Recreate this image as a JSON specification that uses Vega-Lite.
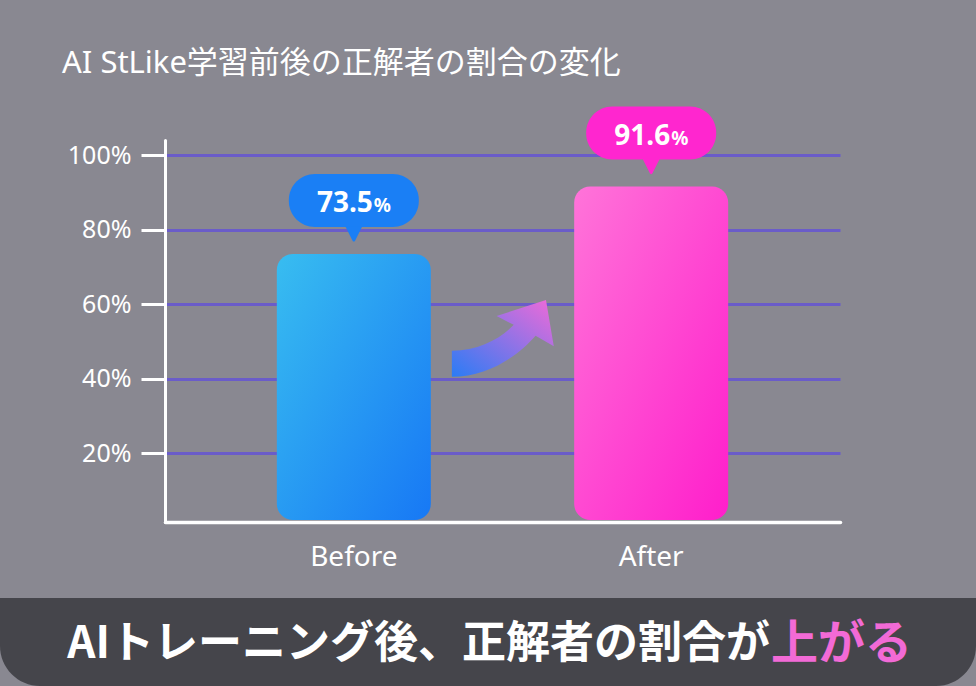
{
  "$schema": "https://vega.github.io/schema/vega-lite/v6.json",
  "width": 675,
  "height": 382,
  "autosize": "none",
  "padding": {"left": 165, "top": 140, "right": 136, "bottom": 164},
  "background": "#898891",
  "title": {
    "text": "AI StLike学習前後の正解者の割合の変化",
    "anchor": "start",
    "frame": "group",
    "dx": -103,
    "offset": 3,
    "baseline": "alphabetic",
    "font": "'Noto Sans', 'Noto Sans CJK JP'",
    "fontSize": 31,
    "fontWeight": "normal",
    "color": "white"
  },
  "data": {"values": [
    {"phase": "Before", "rate": 73.5},
    {"phase": "After", "rate": 91.6}
  ]},
  "encoding": {
    "x": {
      "field": "phase", "type": "nominal", "sort": ["Before", "After"],
      "scale": {"paddingInner": 0, "paddingOuter": 0.135},
      "axis": {"title": null, "labelAngle": 0, "ticks": false, "grid": false,
        "domainColor": "white", "domainWidth": 3.5, "labelFontSize": 28, "labelPadding": 21}
    },
    "y": {
      "field": "rate", "type": "quantitative",
      "scale": {"domain": [1.5, 104.1], "nice": false, "zero": false},
      "axis": {"title": null, "values": [20, 40, 60, 80, 100], "labelExpr": "datum.value + '%'",
        "domainColor": "white", "domainWidth": 3, "tickColor": "white", "tickWidth": 3, "tickSize": 24,
        "labelPadding": 10, "labelFontSize": 25, "grid": true, "gridColor": "#6a5cc9", "gridWidth": 3}
    }
  },
  "layer": [
    {
      "data": {"values": [{}]},
      "mark": {"type": "rect", "color": "#45454b", "cornerRadiusBottomLeft": 40, "cornerRadiusBottomRight": 40},
      "encoding": {"x": {"value": -165}, "x2": {"value": 811}, "y": {"value": 458}, "y2": {"value": 546}}
    },
    {
      "mark": {"type": "bar", "width": 154, "cornerRadius": 16, "y2Offset": -2},
      "encoding": {
        "y2": {"datum": 1.5},
        "fill": {
          "condition": {"test": "datum.phase === 'Before'", "value": {"gradient": "linear", "x1": 0, "y1": 0, "x2": 1, "y2": 1,
            "stops": [{"offset": 0, "color": "#38bdf0"}, {"offset": 1, "color": "#1778f5"}]}},
          "value": {"gradient": "linear", "x1": 0, "y1": 0, "x2": 1, "y2": 1,
            "stops": [{"offset": 0, "color": "#ff74d9"}, {"offset": 1, "color": "#ff1ecb"}]}
        }
      }
    },
    {
      "mark": {"type": "bar", "width": 130, "cornerRadius": 26, "yOffset": -80, "y2Offset": -27},
      "encoding": {
        "y2": {"field": "rate"},
        "fill": {"condition": {"test": "datum.phase === 'Before'", "value": "#1a7ff5"}, "value": "#ff26cf"}
      }
    },
    {
      "mark": {"type": "point", "shape": "M-1,-0.9L1,-0.9L0.15,0.8Q0,1,-0.15,0.8Z", "size": 289, "filled": true, "opacity": 1, "strokeWidth": 0, "yOffset": -20},
      "encoding": {
        "fill": {"condition": {"test": "datum.phase === 'Before'", "value": "#1a7ff5"}, "value": "#ff26cf"}
      }
    },
    {
      "mark": {"type": "text", "align": "right", "baseline": "alphabetic", "xOffset": 19, "yOffset": -42,
        "font": "Noto Sans", "fontSize": 28, "fontWeight": "bold", "color": "white"},
      "encoding": {"text": {"field": "rate", "format": ".1f"}}
    },
    {
      "mark": {"type": "text", "align": "left", "baseline": "alphabetic", "xOffset": 20, "yOffset": -42,
        "font": "Noto Sans", "fontSize": 19, "fontWeight": "bold", "color": "white", "text": "%"},
      "encoding": {}
    },
    {
      "transform": [{"filter": "datum.phase === 'Before'"}],
      "mark": {"type": "point", "filled": true, "opacity": 1, "strokeWidth": 0, "xOffset": 149, "size": 10816,
        "shape": "M-0.98,0.21C-0.46,0.19,-0.08,0,0.21,-0.29L-0.12,-0.46L0.83,-0.77L0.98,0.12L0.63,-0.08C0.31,0.29,-0.27,0.71,-0.98,0.71Z"},
      "encoding": {
        "y": {"datum": 50.4},
        "fill": {"value": {"gradient": "linear", "x1": 0, "y1": 1, "x2": 1, "y2": 0,
          "stops": [{"offset": 0, "color": "#2a7cf5"}, {"offset": 1, "color": "#f06ad8"}]}}
      }
    },
    {
      "data": {"values": [{"caption": "AIトレーニング後、正解者の割合が", "rise": "上がる"}]},
      "layer": [
        {
          "mark": {"type": "text", "align": "right", "baseline": "alphabetic", "font": "Noto Sans CJK JP",
            "fontSize": 44, "fontWeight": "bold", "color": "white"},
          "encoding": {"x": {"value": 605}, "y": {"value": 518}, "text": {"field": "caption"}}
        },
        {
          "mark": {"type": "text", "align": "left", "baseline": "alphabetic", "font": "Noto Sans CJK JP",
            "fontSize": 47, "fontWeight": "bold", "color": "#f26ad6"},
          "encoding": {"x": {"value": 606}, "y": {"value": 519}, "text": {"field": "rise"}}
        }
      ]
    }
  ],
  "config": {
    "view": {"stroke": null},
    "axis": {"labelColor": "white", "labelFont": "Noto Sans", "domainCap": "round"}
  }
}
